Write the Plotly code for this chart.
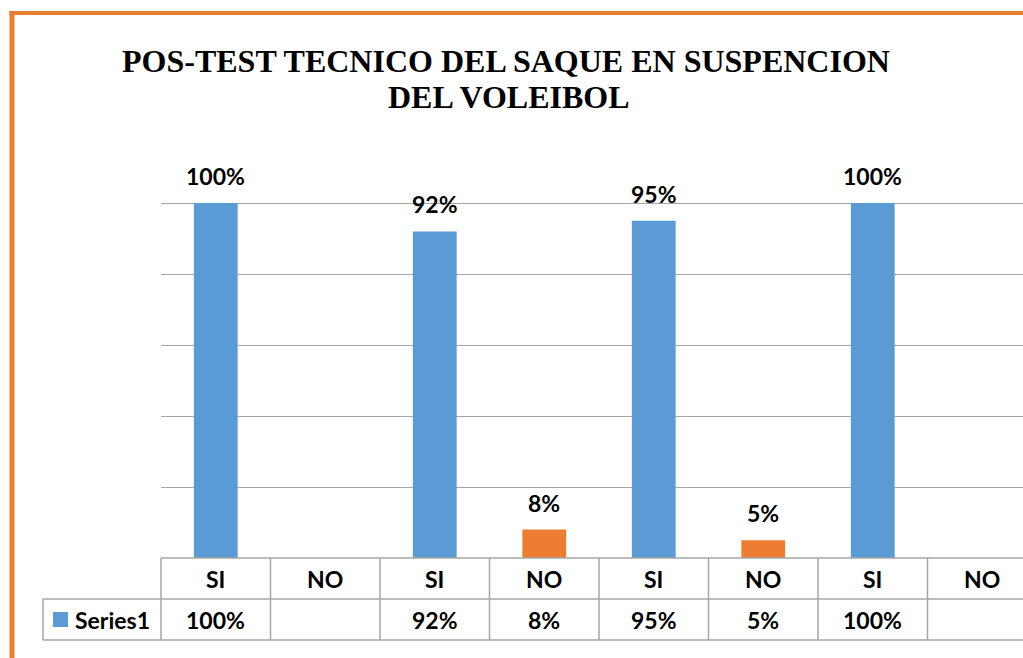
import plotly.graph_objects as go

categories = ["SI", "NO", "SI", "NO", "SI", "NO", "SI", "NO"]
values = [100, None, 92, 8, 95, 5, 100, None]
value_labels = ["100%", "", "92%", "8%", "95%", "5%", "100%", ""]
series_name = "Series1"
title_line1 = "POS-TEST TECNICO DEL SAQUE EN SUSPENCION"
title_line2 = "DEL VOLEIBOL"

BLUE = "#5B9BD5"
ORANGE = "#ED7D31"
GRID = "#A6A6A6"
SANS = "Lato, Carlito, Calibri, 'Open Sans', sans-serif"
SERIF = "'Liberation Serif', 'Times New Roman', serif"

W, H = 1023, 658
L, R, T, B = 161, 0, 132, 100
XMIN, XMAX = -0.5, 7.372
YMAX = 120

x = list(range(len(categories)))
colors = [BLUE if c == "SI" else ORANGE for c in categories]

fig = go.Figure()
fig.add_trace(go.Bar(
    x=x, y=[v if v is not None else 0 for v in values],
    marker=dict(color=colors, line=dict(width=0)),
    width=0.4, name=series_name, showlegend=False, hoverinfo="skip",
))

plot_w = W - L - R
plot_h = H - T - B

def xp(xd):
    return (xd - XMIN) / (XMAX - XMIN)

def yp(py):
    # pixel y from top -> paper
    return (H - B - py) / plot_h

FS = 23
annotations = []
# data labels
for i, (v, lab) in enumerate(zip(values, value_labels)):
    if v:
        annotations.append(dict(x=i, y=v, xref="x", yref="y", text="<b>%s</b>" % lab,
                                showarrow=False, yanchor="middle", yshift=27,
                                font=dict(family=SANS, size=FS, color="#000000")))
# table rows
row1_y = yp(579)
row2_y = yp(620)
for i, (c, lab) in enumerate(zip(categories, value_labels)):
    annotations.append(dict(x=i, y=row1_y, xref="x", yref="paper", text="<b>%s</b>" % c,
                            showarrow=False, yanchor="middle",
                            font=dict(family=SANS, size=FS, color="#000000")))
    if lab:
        annotations.append(dict(x=i, y=row2_y, xref="x", yref="paper", text="<b>%s</b>" % lab,
                                showarrow=False, yanchor="middle",
                                font=dict(family=SANS, size=FS, color="#000000")))
annotations.append(dict(x=(73 - L) / plot_w, y=row2_y, xref="paper", yref="paper",
                        text="<b>%s</b>" % series_name, showarrow=False,
                        xanchor="left", yanchor="middle",
                        font=dict(family=SANS, size=FS, color="#000000")))
# title
annotations.append(dict(x=(506 - L) / plot_w, y=yp(61), xref="paper", yref="paper",
                        text="<b>%s</b>" % title_line1, showarrow=False, yanchor="middle",
                        font=dict(family=SERIF, size=32, color="#000000")))
annotations.append(dict(x=(509 - L) / plot_w, y=yp(97), xref="paper", yref="paper",
                        text="<b>%s</b>" % title_line2, showarrow=False, yanchor="middle",
                        font=dict(family=SERIF, size=32, color="#000000")))

shapes = []
line = dict(color=GRID, width=1.5)
top_y, mid_y, bot_y = yp(558), yp(599), yp(640)
right = 1.2
left_cell = (43 - L) / plot_w
shapes.append(dict(type="line", xref="paper", yref="paper", x0=0, x1=right, y0=top_y, y1=top_y, line=line))
shapes.append(dict(type="line", xref="paper", yref="paper", x0=left_cell, x1=right, y0=mid_y, y1=mid_y, line=line))
shapes.append(dict(type="line", xref="paper", yref="paper", x0=left_cell, x1=right, y0=bot_y, y1=bot_y, line=line))
shapes.append(dict(type="line", xref="paper", yref="paper", x0=left_cell, x1=left_cell, y0=mid_y, y1=bot_y, line=line))
for i in range(len(categories)):
    bx = xp(i - 0.5)
    if bx <= 1:
        shapes.append(dict(type="line", xref="paper", yref="paper", x0=bx, x1=bx, y0=top_y, y1=bot_y, line=line))
# legend key
shapes.append(dict(type="rect", xref="paper", yref="paper",
                   x0=(53 - L) / plot_w, x1=(68 - L) / plot_w, y0=yp(627), y1=yp(612),
                   fillcolor=BLUE, line=dict(width=0)))
# orange frame
shapes.append(dict(type="line", xref="paper", yref="paper",
                   x0=(12 - L) / plot_w, x1=(12 - L) / plot_w, y0=yp(11), y1=yp(700),
                   line=dict(color=ORANGE, width=5)))
shapes.append(dict(type="line", xref="paper", yref="paper",
                   x0=(9.5 - L) / plot_w, x1=1.2, y0=yp(13), y1=yp(13),
                   line=dict(color=ORANGE, width=4)))

fig.update_layout(
    width=W, height=H,
    margin=dict(l=L, r=R, t=T, b=B, pad=0),
    paper_bgcolor="white", plot_bgcolor="white",
    bargap=0.6,
    xaxis=dict(range=[XMIN, XMAX], showgrid=False, zeroline=False, showline=False,
               showticklabels=False, ticks="", fixedrange=True),
    yaxis=dict(range=[0, YMAX], dtick=20, showgrid=True, gridcolor=GRID, gridwidth=1,
               zeroline=False, showline=False, showticklabels=False, ticks="",
               fixedrange=True),
    annotations=annotations, shapes=shapes, showlegend=False,
)

fig.write_html("out.html", config={"displayModeBar": False},
               post_script="document.body.style.margin='0';document.body.style.overflow='hidden';")
